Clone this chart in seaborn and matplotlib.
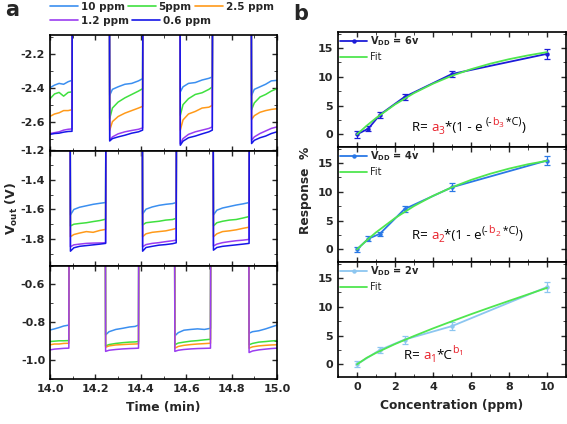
import pandas as pd
import matplotlib
matplotlib.use("Agg")
import matplotlib.pyplot as plt
from matplotlib.ticker import MultipleLocator
from matplotlib.lines import Line2D
import seaborn as sns

# ── style ─────────────────────────────────────────────────────────────────────
sns.set_style("ticks")
plt.rcParams.update({
    "font.family": ["DejaVu Sans"],
    "font.weight": "bold",
    "axes.unicode_minus": False,
    "axes.linewidth": 1.2,
    "axes.edgecolor": "black",
    "xtick.direction": "in",
    "ytick.direction": "in",
    "xtick.top": True,
    "ytick.right": True,
    "xtick.major.size": 3.5,
    "ytick.major.size": 3.5,
    "xtick.minor.size": 2.0,
    "ytick.minor.size": 2.0,
    "xtick.major.width": 1.0,
    "ytick.major.width": 1.0,
    "xtick.labelsize": 8,
    "ytick.labelsize": 8,
    "mathtext.default": "regular",
})

CONC_LABELS = ["10 ppm", "5ppm", "2.5 ppm", "1.2 ppm", "0.6 ppm"]
CONC_COLORS = ["#3b8ff0", "#3fe03f", "#ff9a1a", "#9b3df0", "#1616e8"]
PAL = dict(zip(CONC_LABELS, CONC_COLORS))

# ── panel a: transient traces ─────────────────────────────────────────────────
TOP_T = [14.000, 14.020, 14.040, 14.060, 14.080, 14.097, 14.098, 14.262,
         14.263, 14.275, 14.300, 14.330, 14.360, 14.390, 14.408, 14.409, 14.573,
         14.574, 14.586, 14.610, 14.640, 14.670, 14.700, 14.715, 14.716, 14.887,
         14.888, 14.900, 14.925, 14.950, 14.975, 15.000]
TOP_10 = [-2.400, -2.385, -2.375, -2.380, -2.365, -2.357, -1.9, -1.9,
          -2.445, -2.410, -2.395, -2.380, -2.375, -2.360, -2.347, -1.9, -1.9,
          -2.425, -2.395, -2.375, -2.370, -2.355, -2.345, -2.337, -1.9, -1.9,
          -2.445, -2.410, -2.395, -2.380, -2.360, -2.357]
TOP_5 = [-2.465, -2.437, -2.428, -2.450, -2.428, -2.425, -1.9, -1.9,
         -2.582, -2.520, -2.485, -2.460, -2.440, -2.420, -2.406, -1.9, -1.9,
         -2.563, -2.500, -2.465, -2.440, -2.430, -2.410, -2.396, -1.9, -1.9,
         -2.530, -2.490, -2.455, -2.440, -2.420, -2.406]
TOP_25 = [-2.569, -2.555, -2.548, -2.535, -2.535, -2.530, -1.9, -1.9,
          -2.651, -2.600, -2.570, -2.550, -2.535, -2.520, -2.510, -1.9, -1.9,
          -2.650, -2.590, -2.555, -2.540, -2.520, -2.515, -2.504, -1.9, -1.9,
          -2.588, -2.565, -2.545, -2.535, -2.528, -2.524]
TOP_12 = [-2.670, -2.665, -2.660, -2.650, -2.645, -2.643, -1.9, -1.9,
          -2.710, -2.690, -2.672, -2.660, -2.652, -2.645, -2.637, -1.9, -1.9,
          -2.730, -2.700, -2.675, -2.660, -2.650, -2.640, -2.631, -1.9, -1.9,
          -2.710, -2.690, -2.670, -2.655, -2.640, -2.631]
TOP_06 = [-2.675, -2.670, -2.668, -2.662, -2.658, -2.657, -1.9, -1.9,
          -2.714, -2.700, -2.690, -2.680, -2.668, -2.660, -2.650, -1.9, -1.9,
          -2.739, -2.715, -2.695, -2.685, -2.672, -2.660, -2.650, -1.9, -1.9,
          -2.729, -2.710, -2.695, -2.685, -2.670, -2.660]

MID_T = [14.000, 14.089,
         14.090, 14.105, 14.130, 14.160, 14.190, 14.220, 14.245, 14.246, 14.407,
         14.408, 14.423, 14.450, 14.480, 14.510, 14.540, 14.556, 14.557, 14.719,
         14.720, 14.735, 14.760, 14.790, 14.820, 14.850, 14.877, 14.878, 15.000]
MID_10 = [-1.0, -1.0,
          -1.637, -1.600, -1.585, -1.575, -1.565, -1.558, -1.553, -1.0, -1.0,
          -1.630, -1.598, -1.583, -1.572, -1.565, -1.560, -1.553, -1.0, -1.0,
          -1.637, -1.605, -1.590, -1.580, -1.570, -1.562, -1.553, -1.0, -1.0]
MID_5 = [-1.0, -1.0,
         -1.712, -1.700, -1.695, -1.690, -1.682, -1.675, -1.666, -1.0, -1.0,
         -1.705, -1.690, -1.685, -1.680, -1.672, -1.668, -1.660, -1.0, -1.0,
         -1.712, -1.690, -1.680, -1.672, -1.668, -1.658, -1.648, -1.0, -1.0]
MID_25 = [-1.0, -1.0,
          -1.785, -1.770, -1.760, -1.750, -1.755, -1.742, -1.735, -1.0, -1.0,
          -1.785, -1.765, -1.755, -1.750, -1.745, -1.735, -1.728, -1.0, -1.0,
          -1.785, -1.765, -1.750, -1.745, -1.738, -1.728, -1.720, -1.0, -1.0]
MID_12 = [-1.0, -1.0,
          -1.853, -1.840, -1.835, -1.830, -1.828, -1.827, -1.826, -1.0, -1.0,
          -1.853, -1.838, -1.830, -1.825, -1.818, -1.812, -1.808, -1.0, -1.0,
          -1.848, -1.835, -1.825, -1.818, -1.812, -1.808, -1.803, -1.0, -1.0]
MID_06 = [-1.0, -1.0,
          -1.883, -1.860, -1.850, -1.845, -1.840, -1.835, -1.830, -1.0, -1.0,
          -1.883, -1.858, -1.850, -1.842, -1.838, -1.832, -1.826, -1.0, -1.0,
          -1.876, -1.858, -1.850, -1.845, -1.840, -1.835, -1.830, -1.0, -1.0]

BOT_T = [14.000, 14.020, 14.040, 14.060, 14.083, 14.084, 14.244,
         14.245, 14.260, 14.290, 14.320, 14.350, 14.375, 14.390, 14.391, 14.549,
         14.550, 14.565, 14.590, 14.620, 14.650, 14.680, 14.707, 14.708, 14.876,
         14.877, 14.892, 14.920, 14.950, 14.975, 15.000]
BOT_10 = [-0.841, -0.835, -0.828, -0.820, -0.815, -0.3, -0.3,
          -0.867, -0.850, -0.838, -0.832, -0.825, -0.822, -0.815, -0.3, -0.3,
          -0.872, -0.855, -0.842, -0.838, -0.835, -0.838, -0.832, -0.3, -0.3,
          -0.858, -0.850, -0.845, -0.835, -0.825, -0.815]
BOT_5 = [-0.902, -0.900, -0.898, -0.898, -0.897, -0.3, -0.3,
         -0.925, -0.918, -0.912, -0.908, -0.905, -0.904, -0.902, -0.3, -0.3,
         -0.919, -0.910, -0.905, -0.900, -0.897, -0.893, -0.890, -0.3, -0.3,
         -0.919, -0.912, -0.905, -0.902, -0.899, -0.897]
BOT_25 = [-0.919, -0.915, -0.915, -0.912, -0.911, -0.3, -0.3,
          -0.932, -0.925, -0.920, -0.918, -0.916, -0.915, -0.914, -0.3, -0.3,
          -0.937, -0.928, -0.922, -0.918, -0.915, -0.913, -0.911, -0.3, -0.3,
          -0.937, -0.930, -0.925, -0.922, -0.920, -0.919]
BOT_12 = [-0.946, -0.942, -0.940, -0.938, -0.937, -0.3, -0.3,
          -0.954, -0.948, -0.944, -0.941, -0.939, -0.938, -0.937, -0.3, -0.3,
          -0.954, -0.948, -0.944, -0.941, -0.939, -0.938, -0.937, -0.3, -0.3,
          -0.960, -0.952, -0.946, -0.942, -0.939, -0.937]

# ── panel b: response vs concentration ───────────────────────────────────────
CONC = [0, 0.6, 1.2, 2.5, 5, 10]
R6 = [0.0, 1.0, 3.4, 6.5, 10.5, 14.0]
E6 = [0.6, 0.4, 0.5, 0.6, 0.6, 0.9]
R4 = [0.0, 1.85, 2.7, 7.0, 10.8, 15.45]
E4 = [0.4, 0.4, 0.4, 0.5, 0.7, 0.7]
CONC2 = [0, 1.2, 2.5, 5, 10]
R2 = [0.0, 2.5, 4.3, 6.65, 13.45]
E2 = [0.5, 0.6, 0.7, 0.7, 0.9]

FIT_C = [0, 0.5, 1, 2, 3, 4, 5, 6, 7, 8, 9, 10]
FIT6 = [0, 1.48, 2.83, 5.2, 7.17, 8.81, 10.2, 11.33, 12.28, 13.07, 13.73, 14.3]
FIT4 = [0, 1.54, 2.95, 5.43, 7.53, 9.3, 10.8, 12.07, 13.14, 14.04, 14.8, 15.4]
FIT2 = [0, 1.12, 1.99, 3.53, 4.93, 6.25, 7.5, 8.72, 9.89, 11.04, 12.17, 13.3]

V_LABELS = ["6v", "4v", "2v"]
V_COLORS = ["#1c1cd8", "#2a78e6", "#8cc6f0"]
FIT_COLOR = "#4fe64f"
RED = "#e8202a"


def long_df(t, series):
    parts = [pd.DataFrame({"t": t, "v": vals, "conc": lab})
             for lab, vals in series]
    return pd.concat(parts, ignore_index=True)


fig = plt.figure(figsize=(5.67, 4.24), dpi=100)

# geometry in pixels -> figure fraction
LX, LW = 50 / 567, 227 / 567
left_rows = [(35, 150.5), (150.5, 265.5), (265.5, 379)]
RX, RW = 338 / 567, 228 / 567
right_rows = [(32, 147), (147, 262), (262, 377)]


def frac(top, bot):
    return 1 - bot / 424, (bot - top) / 424


panels_a = [
    (TOP_T, [TOP_10, TOP_5, TOP_25, TOP_12, TOP_06], (-2.77, -2.09)),
    (MID_T, [MID_10, MID_5, MID_25, MID_12, MID_06], (-1.98, -1.20)),
    (BOT_T, [BOT_10, BOT_5, BOT_25, BOT_12], (-1.10, -0.50)),
]

axes_a = []
for (top, bot), (t, curves, ylim) in zip(left_rows, panels_a):
    y0, h = frac(top, bot)
    ax = fig.add_axes([LX, y0, LW, h])
    df = long_df(t, list(zip(CONC_LABELS, curves)))
    sns.lineplot(data=df, x="t", y="v", hue="conc", palette=PAL,
                 hue_order=CONC_LABELS[:len(curves)],
                 estimator=None, sort=False, lw=1.1, legend=False, ax=ax)
    ax.set_xlim(14.0, 15.0)
    ax.set_ylim(*ylim)
    ax.xaxis.set_major_locator(MultipleLocator(0.2))
    ax.xaxis.set_minor_locator(MultipleLocator(0.1))
    ax.yaxis.set_major_locator(MultipleLocator(0.2))
    ax.yaxis.set_minor_locator(MultipleLocator(0.1))
    ax.yaxis.set_major_formatter(plt.FormatStrFormatter("%.1f"))
    ax.set_xlabel("")
    ax.set_ylabel("")
    ax.tick_params(which="both", top=True, right=True)
    ax.tick_params(axis="x", labelbottom=False)
    axes_a.append(ax)

axes_a[-1].tick_params(axis="x", labelbottom=True)
axes_a[-1].xaxis.set_major_formatter(plt.FormatStrFormatter("%.1f"))
axes_a[-1].set_xlabel("Time (min)", fontsize=8.8, fontweight="bold", labelpad=5)

fig.text(12 / 567, 1 - 208 / 424, r"$\mathbf{V_{out}}$ (V)", rotation=90,
         ha="center", va="center", fontsize=9, fontweight="bold")

# legend for panel a: two rows, laid out like the original
leg_kw = dict(loc="upper left", frameon=False, prop={"size": 7.5, "weight": "bold"},
              handlelength=2.7, handletextpad=0.25, columnspacing=0.3,
              borderpad=0, borderaxespad=0)
rows = [[0, 1, 2], [3, 4]]
row_y = [1 - 2 / 424, 1 - 16 / 424]
for idx, yy in zip(rows, row_y):
    hs = [Line2D([], [], color=CONC_COLORS[i], lw=1.2) for i in idx]
    fig.legend(hs, [CONC_LABELS[i] for i in idx], ncol=len(idx),
               bbox_to_anchor=(50 / 567, yy), **leg_kw)

fig.text(5 / 567, 1 - 16 / 424, "a", fontsize=15, fontweight="bold", va="baseline")
fig.text(293 / 567, 1 - 19.5 / 424, "b", fontsize=15, fontweight="bold", va="baseline")


# ── panel b ──────────────────────────────────────────────────────────────────
LEVEL_SIZE = {0: 1.0, -1: 0.75, 1: 0.8, 2: 0.62}
LEVEL_DY = {0: 0.0, -1: -2.2, 1: 4.4, 2: 2.8}


def formula(ax, pieces, x, y, size=9.6):
    prev = None
    for s, c, lvl in pieces:
        kw = dict(color=c, fontsize=size * LEVEL_SIZE[lvl], fontweight="normal",
                  family="Open Sans", va="baseline", ha="left",
                  textcoords="offset points", xytext=(0, LEVEL_DY[lvl]))
        if prev is None:
            prev = ax.annotate(s, xy=(x, y), xycoords="data", **kw)
        else:
            prev = ax.annotate(s, xy=(1, y), xycoords=(prev, "data"), **kw)


K = "black"
formulas = [
    ([("R= ", K, 0), ("a", RED, 0), ("3", RED, -1), ("*(1 - e ", K, 0),
      ("(-", K, 1), ("b", RED, 1), ("3", RED, 2), (" *C)", K, 1), (")", K, 0)],
     2.9, 0.57),
    ([("R= ", K, 0), ("a", RED, 0), ("2", RED, -1), ("*(1 - e", K, 0),
      ("(-", K, 1), ("b", RED, 1), ("2", RED, 2), (" *C)", K, 1), (")", K, 0)],
     2.9, 1.73),
    ([("R= ", K, 0), ("a", RED, 0), ("1", RED, -1), ("*C", K, 0),
      ("b", RED, 1), ("1", RED, 2)],
     2.46, 0.87),
]

right_data = [(CONC, R6, E6, FIT6), (CONC, R4, E4, FIT4), (CONC2, R2, E2, FIT2)]

axes_b = []
for i, ((top, bot), (cx, ry, ey, fy)) in enumerate(zip(right_rows, right_data)):
    y0, h = frac(top, bot)
    ax = fig.add_axes([RX, y0, RW, h])
    col = V_COLORS[i]
    ax.errorbar(cx, ry, yerr=ey, fmt="none", ecolor=col, elinewidth=0.9,
                capsize=2, capthick=0.9, zorder=2)
    sns.lineplot(x=cx, y=ry, color=col, marker="o", markersize=3.2,
                 markeredgewidth=0, lw=1.3, ax=ax,
                 label=r"$\mathbf{V_{DD}}$ = " + V_LABELS[i], zorder=3)
    sns.lineplot(x=FIT_C, y=fy, color=FIT_COLOR, lw=1.3, ax=ax, label="Fit", zorder=4)
    ax.set_xlim(-1, 11)
    ax.set_ylim(-2.2, 17.8)
    ax.xaxis.set_major_locator(MultipleLocator(2))
    ax.xaxis.set_minor_locator(MultipleLocator(1))
    ax.yaxis.set_major_locator(MultipleLocator(5))
    ax.yaxis.set_minor_locator(MultipleLocator(2.5))
    ax.tick_params(which="both", top=True, right=True)
    ax.tick_params(axis="x", labelbottom=(i == 2))
    leg = ax.legend(loc="upper left", frameon=False, fontsize=7,
                    handlelength=2.8, handletextpad=0.3, borderaxespad=0.1,
                    borderpad=0.1, labelspacing=0.45)
    leg.get_texts()[0].set_fontweight("bold")
    leg.get_texts()[1].set_fontweight("normal")
    pieces, fx, fy0 = formulas[i]
    formula(ax, pieces, fx, fy0)
    axes_b.append(ax)

axes_b[-1].set_xlabel("Concentration (ppm)", fontsize=8.8, fontweight="bold", labelpad=5)
fig.text(306 / 567, 1 - 190 / 424, "Response  %", rotation=90,
         ha="center", va="center", fontsize=8.8, fontweight="bold")

fig.savefig("out.png", dpi=100)
